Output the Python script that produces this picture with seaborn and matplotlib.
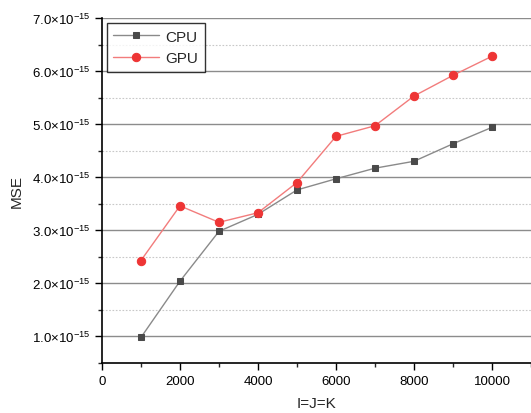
import numpy as np
import pandas as pd
import matplotlib
matplotlib.use("Agg")
import matplotlib.pyplot as plt
import seaborn as sns
from matplotlib.ticker import FuncFormatter, MultipleLocator

# problem size I=J=K
sizes = [1000, 2000, 3000, 4000, 5000, 6000, 7000, 8000, 9000, 10000]
# MSE in units of 1e-15
mse_cpu = [0.98, 2.04, 2.98, 3.30, 3.76, 3.97, 4.17, 4.30, 4.63, 4.94]
mse_gpu = [2.43, 3.46, 3.15, 3.33, 3.90, 4.77, 4.97, 5.53, 5.92, 6.28]

df = pd.DataFrame({
    'size': sizes * 2,
    'mse': mse_cpu + mse_gpu,
    'device': ['CPU'] * len(sizes) + ['GPU'] * len(sizes),
})

sns.set_style("white")
plt.rcParams['font.family'] = ['Liberation Sans', 'DejaVu Sans']
plt.rcParams['mathtext.fontset'] = 'custom'
plt.rcParams['mathtext.rm'] = 'Liberation Sans'
plt.rcParams['mathtext.it'] = 'Liberation Sans'

fig = plt.figure(figsize=(5.31, 4.14), dpi=100)
ax = fig.add_axes([0.192, 0.121, 0.808, 0.833])

ax.yaxis.set_major_locator(MultipleLocator(1.0))
ax.yaxis.set_minor_locator(MultipleLocator(0.5))
ax.xaxis.set_major_locator(MultipleLocator(2000))
ax.xaxis.set_minor_locator(MultipleLocator(1000))
ax.grid(axis='y', which='major', color='#8c8c8c', lw=1.0, ls='-')
ax.grid(axis='y', which='minor', color='#c8c8c8', lw=0.8, ls=(0, (1.5, 1.5)))
ax.set_axisbelow(True)

line_colors = {'CPU': '#8a8a8a', 'GPU': '#f27c7c'}
sns.lineplot(data=df[df.device == 'CPU'], x='size', y='mse', ax=ax,
             color=line_colors['CPU'], lw=1.0, marker='s', markersize=5,
             markerfacecolor='#4a4a4a', markeredgecolor='#4a4a4a', label='CPU')
sns.lineplot(data=df[df.device == 'GPU'], x='size', y='mse', ax=ax,
             color=line_colors['GPU'], lw=1.0, marker='o', markersize=6,
             markerfacecolor='#ee3535', markeredgecolor='#ee3535', label='GPU')

ax.set_xlim(0, 11000)
ax.set_ylim(0.5, 7.0)

ax.yaxis.set_major_formatter(FuncFormatter(
    lambda v, p: r'$%.1f{\times}10^{-15}$' % v))
ax.tick_params(axis='both', which='major', direction='out', length=5,
               width=1, labelsize=9.5, colors='black', left=True, bottom=True)
ax.tick_params(axis='both', which='minor', direction='out', length=3,
               width=1, left=True, bottom=True)

for s in ['top', 'right']:
    ax.spines[s].set_visible(False)
for s in ['left', 'bottom']:
    ax.spines[s].set_color('black')
    ax.spines[s].set_linewidth(1.2)

ax.set_xlabel('I=J=K', fontsize=11, labelpad=7)
ax.set_ylabel('MSE', fontsize=11, labelpad=6)

leg = ax.legend(loc='upper left', bbox_to_anchor=(0.0, 1.0), fontsize=11,
                frameon=True, fancybox=False, handlelength=3.0,
                borderpad=0.45, labelspacing=0.5, handletextpad=0.4,
                borderaxespad=0.3)
leg.get_frame().set_edgecolor('black')
leg.get_frame().set_linewidth(1.0)

fig.savefig('out.png', dpi=100)
